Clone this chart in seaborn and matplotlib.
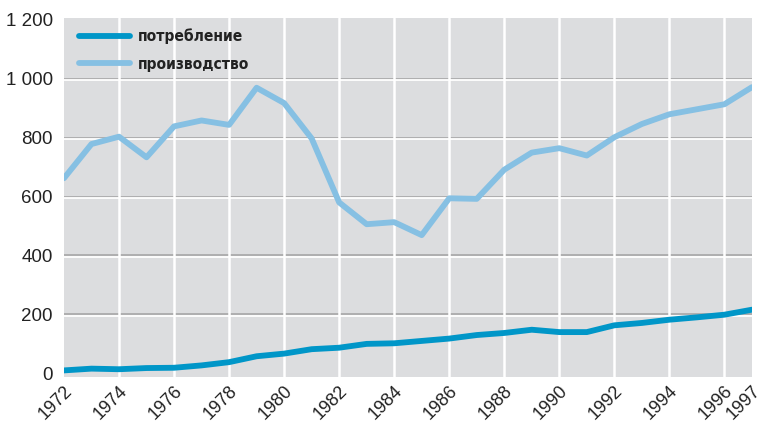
import numpy as np
import pandas as pd
import matplotlib.pyplot as plt
import matplotlib.transforms as mtransforms
import seaborn as sns

years = list(range(1972, 1998))
consumption = [10, 16, 14, 18, 19, 27, 38, 58, 67, 82, 87, 100, 102, 110, 118, 130,
               137, 148, 140, 140, 163, 171, 182, 190, 199, 216]
production = [662, 778, 803, 733, 838, 858, 843, 969, 917, 797, 580, 506, 513, 469,
              594, 592, 691, 749, 764, 739, 801, 846, 879, 896, 913, 971]
series_names = ['потребление', 'производство']
colors = ['#0096c8', '#86c0e3']
xticks = list(range(1972, 1997, 2)) + [1997]
yticks = [0, 200, 400, 600, 800, 1000, 1200]
ytick_labels = ['0', '200', '400', '600', '800', '1 000', '1 200']

df = pd.DataFrame({
    'year': years * 2,
    'value': consumption + production,
    'series': [series_names[0]] * len(years) + [series_names[1]] * len(years),
})

sns.set_style('white')
plt.rcParams['font.family'] = ['Liberation Sans', 'DejaVu Sans']

fig = plt.figure(figsize=(7.58, 4.23), dpi=100)
ax = fig.add_axes([0.0844, 0.109, 0.9076, 0.848])
ax.set_facecolor('#dcdddf')

# embossed horizontal grid: grey line with a white line just below
white_off = mtransforms.offset_copy(ax.transData, fig=fig, x=0, y=-1.6, units='dots')
for v in yticks[1:-1]:
    ax.axhline(v, color='#ababab', lw=1.3, zorder=1)
    ax.plot([1972, 1997], [v, v], color='white', lw=1.3, transform=white_off, zorder=1)
for yr in xticks[1:-1]:
    ax.axvline(yr, color='white', lw=1.8, zorder=1)

sns.lineplot(data=df, x='year', y='value', hue='series', palette=colors,
             linewidth=4.2, ax=ax, legend=False, zorder=3)

ax.set_xlim(1972, 1997)
ax.set_ylim(-12, 1205)
ax.set_xticks(xticks)
ax.set_xticklabels([str(x) for x in xticks], rotation=45, ha='right',
                   rotation_mode='anchor', fontsize=13, color='#222222')
ax.set_yticks(yticks)
ax.set_yticklabels(ytick_labels, fontsize=13.5, color='#222222')
ax.tick_params(axis='both', length=0)
ax.tick_params(axis='x', pad=4)
ax.tick_params(axis='y', pad=8)
ax.set_xlabel('')
ax.set_ylabel('')
for s in ax.spines.values():
    s.set_visible(False)

handles = [plt.Line2D([], [], color=c, lw=4.2) for c in colors]
leg = ax.legend(handles, series_names, loc='upper left', frameon=False,
                handlelength=3.3, handletextpad=0.45, labelspacing=0.78,
                borderaxespad=0.0, bbox_to_anchor=(0.013, 0.988),
                prop={'family': 'DejaVu Sans', 'stretch': 'condensed',
                      'weight': 'bold', 'size': 11.2})
for t in leg.get_texts():
    t.set_color('#222222')

fig.savefig('out.png', dpi=100)
